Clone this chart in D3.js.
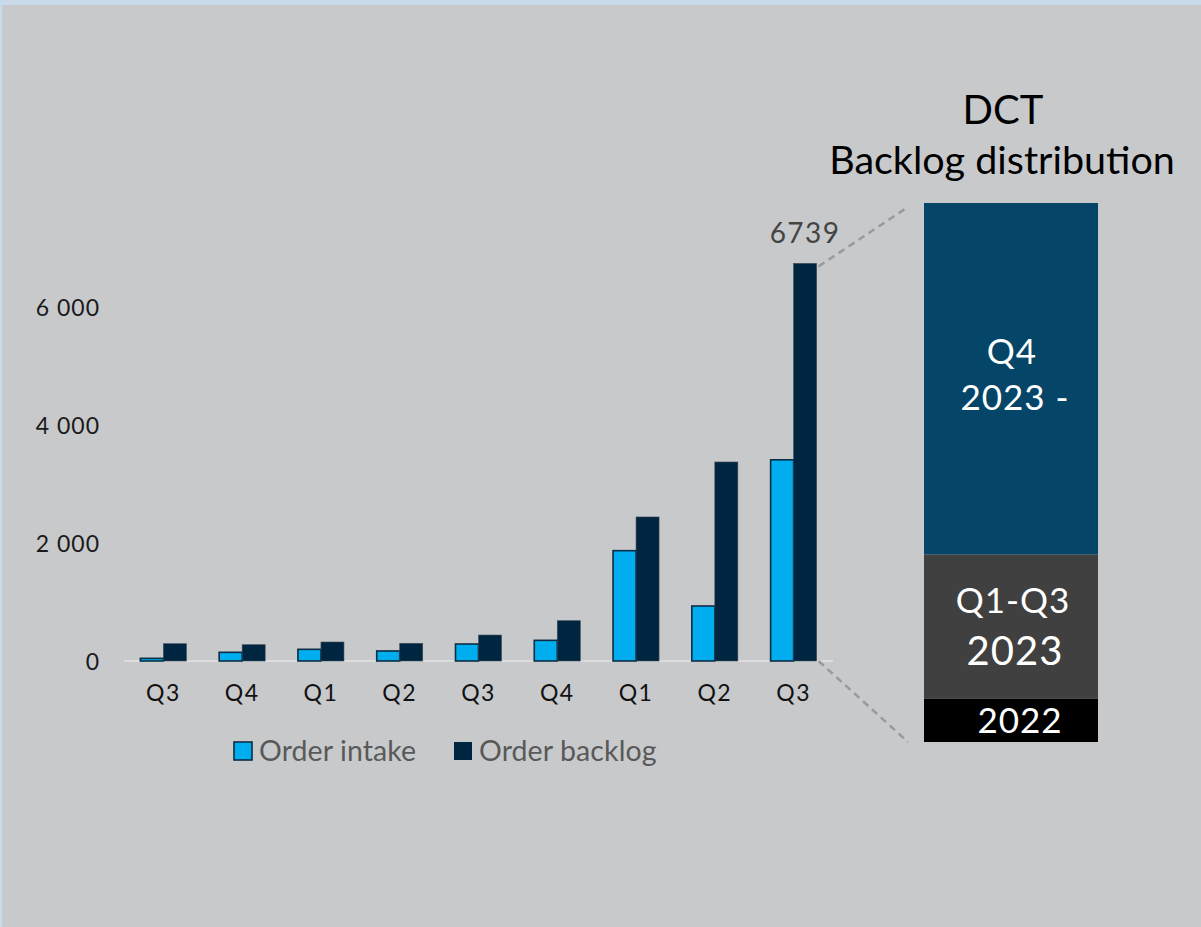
<!DOCTYPE html>
<html>
<head>
<meta charset="utf-8">
<script src="https://cdn.jsdelivr.net/npm/d3@7"></script>
<style>
  html, body { margin: 0; padding: 0; background: #c8c9cb; }
  svg { display: block; }
  text { font-family: "Lato", "Open Sans", sans-serif; }
</style>
</head>
<body>
<svg id="chart" width="1201" height="927"></svg>
<script>
// Quarterly figures
const quarters = ["Q3", "Q4", "Q1", "Q2", "Q3", "Q4", "Q1", "Q2", "Q3"];
const orderIntake = [45, 147, 198, 170, 288, 350, 1870, 932, 3410];
const orderBacklog = [293, 276, 322, 300, 440, 683, 2441, 3373, 6739];
const yTicks = [0, 2000, 4000, 6000];

// Backlog distribution by delivery period (share, %)
const distLabels = [["2022"], ["Q1-Q3", "2023"], ["Q4", "2023 -"]];
const distShares = [8, 26.8, 65.2];
const distColors = ["#000000", "#404040", "#054668"];

const seriesNames = ["Order intake", "Order backlog"];
const seriesColors = ["#00adee", "#002540"];

const svg = d3.select("#chart");

// backdrop edges
svg.append("rect").attr("x", 0).attr("y", 0).attr("width", 1201).attr("height", 5).attr("fill", "#c9dbea");
svg.append("rect").attr("x", 0).attr("y", 0).attr("width", 2).attr("height", 927).attr("fill", "#c5dcef");

const fmt = d3.formatLocale({ decimal: ",", thousands: " ", grouping: [3], currency: ["", ""] }).format(",d");

const x = d3.scaleBand().domain(d3.range(quarters.length)).range([124, 833]).paddingInner(0).paddingOuter(0);
const y = d3.scaleLinear().domain([0, 8000]).range([661, 189]);
const bw = 23;

// y axis labels
const yAxis = svg.append("g").attr("transform", "translate(100,0)")
  .call(d3.axisLeft(y).tickValues(yTicks).tickFormat(fmt).tickSize(0).tickPadding(0));
yAxis.select(".domain").remove();
yAxis.selectAll("text").attr("font-size", 23).attr("letter-spacing", 1).attr("fill", "#1a1a1a").attr("dy", "0.35em");

// baseline
svg.append("line").attr("x1", 124).attr("x2", 833).attr("y1", y(0)).attr("y2", y(0))
  .attr("stroke", "#dcdcdc").attr("stroke-width", 2);

// bars
const groups = svg.append("g").selectAll("g").data(quarters).join("g")
  .attr("transform", (d, i) => `translate(${x(i) + x.bandwidth() / 2},0)`);

groups.append("rect")
  .attr("x", -bw).attr("width", bw)
  .attr("y", (d, i) => y(orderIntake[i]))
  .attr("height", (d, i) => y(0) - y(orderIntake[i]))
  .attr("fill", seriesColors[0]).attr("stroke", "#0b2c44").attr("stroke-width", 1.6);

groups.append("rect")
  .attr("x", 0).attr("width", bw)
  .attr("y", (d, i) => y(orderBacklog[i]))
  .attr("height", (d, i) => y(0) - y(orderBacklog[i]))
  .attr("fill", seriesColors[1]).attr("stroke", "#3a4a58").attr("stroke-width", 0.6);

// x axis labels
const xAxis = svg.append("g").attr("transform", `translate(0,${y(0)})`)
  .call(d3.axisBottom(x).tickFormat(i => quarters[i]).tickSize(0).tickPadding(24));
xAxis.select(".domain").remove();
xAxis.selectAll("text").attr("font-size", 23).attr("letter-spacing", 1.5).attr("fill", "#111");

// last value label
const last = orderBacklog.length - 1;
svg.append("text")
  .attr("x", x(last) + x.bandwidth() / 2 + bw / 2)
  .attr("y", y(orderBacklog[last]) - 20)
  .attr("text-anchor", "middle").attr("font-size", 28).attr("letter-spacing", 1.5).attr("fill", "#444")
  .text(orderBacklog[last]);

// legend
const legend = svg.append("g");
const legendX = [234, 454];
seriesNames.forEach((name, i) => {
  legend.append("rect").attr("x", legendX[i]).attr("y", 742).attr("width", 18).attr("height", 18)
    .attr("fill", seriesColors[i]).attr("stroke", i === 0 ? "#0b2c44" : "none").attr("stroke-width", 1.6);
  legend.append("text").attr("x", legendX[i] + 25).attr("y", 761)
    .attr("font-size", 28.5).attr("letter-spacing", 0.1).attr("fill", "#595959").text(name);
});

// distribution column
const dx0 = 924, dx1 = 1098;
const ds = d3.scaleLinear().domain([0, d3.sum(distShares)]).range([742, 203]);
const cum = d3.cumsum(distShares);
const dist = svg.append("g");
distShares.forEach((v, i) => {
  const y0 = ds(cum[i] - v), y1 = ds(cum[i]);
  dist.append("rect").attr("x", dx0).attr("width", dx1 - dx0)
    .attr("y", y1).attr("height", y0 - y1).attr("fill", distColors[i]);
});
const cx = (dx0 + dx1) / 2;
// segment captions
const caption = (tx, ty, size, t) => dist.append("text").attr("x", tx).attr("y", ty)
  .attr("text-anchor", "middle").attr("font-size", size).attr("letter-spacing", 1)
  .attr("fill", "#fff").text(t);
caption(cx + 9, 733, 35, distLabels[0][0]);
caption(cx + 2, 613, 35, distLabels[1][0]);
caption(cx + 4, 665, 40, distLabels[1][1]);
caption(cx + 1, 364, 35, distLabels[2][0]);
caption(cx + 4, 410, 35, distLabels[2][1]);

// title
svg.append("text").attr("x", 1003).attr("y", 124).attr("text-anchor", "middle")
  .attr("font-size", 40).attr("fill", "#000").text("DCT");
svg.append("text").attr("x", 1002).attr("y", 174).attr("text-anchor", "middle")
  .attr("font-size", 39.5).attr("fill", "#000").text("Backlog distribution");

// connectors from the last backlog bar to the column
const bx = x(last) + x.bandwidth() / 2 + bw + 2;
[[y(orderBacklog[last]) + 3, 207], [y(0), 742]].forEach(([a, b]) => {
  svg.append("line").attr("x1", bx).attr("y1", a).attr("x2", 908).attr("y2", b)
    .attr("stroke", "#9a9a9a").attr("stroke-width", 2.5).attr("stroke-dasharray", "7,5");
});
</script>
</body>
</html>
